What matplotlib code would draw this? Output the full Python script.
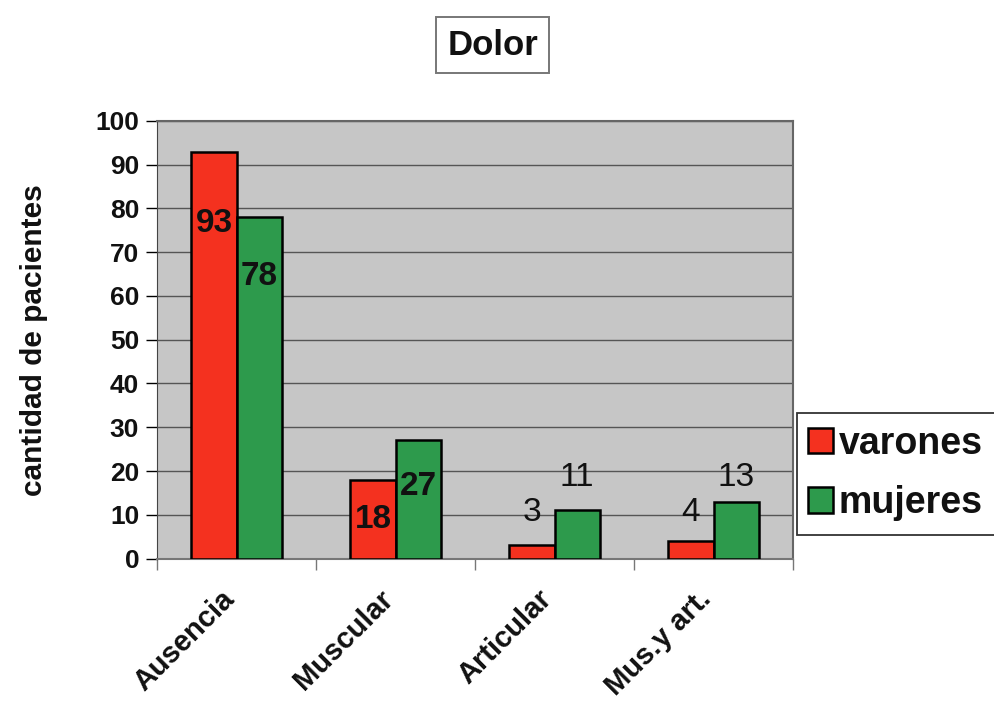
import numpy as np
import matplotlib.pyplot as plt
import matplotlib.transforms as mtransforms
from matplotlib.patches import Rectangle

plt.rcParams["font.family"] = ["Liberation Sans", "DejaVu Sans"]

categorias = ["Ausencia", "Muscular", "Articular", "Mus.y art."]
varones = [93, 18, 3, 4]
mujeres = [78, 27, 11, 13]
series = ["varones", "mujeres"]

# label heights (data units) as placed on the chart
pos_varones = [76.5, 9.0, 10.5, 10.5]
pos_mujeres = [64.5, 16.5, 18.5, 18.5]
dentro = [True, True, False, False]

rojo = "#f4311f"
verde = "#2d9a4c"

fig = plt.figure(figsize=(9.95, 7.07), dpi=100)
ax = fig.add_axes([0.158, 0.210, 0.639, 0.619])
ax.set_facecolor("#c6c6c6")

x = np.arange(len(categorias))
w = 0.285
ax.bar(x - w / 2, varones, w, color=rojo, edgecolor="black", linewidth=1.8,
       label=series[0], zorder=3)
ax.bar(x + w / 2, mujeres, w, color=verde, edgecolor="black", linewidth=1.8,
       label=series[1], zorder=3)

for i in range(len(categorias)):
    peso = "bold" if dentro[i] else "normal"
    ax.text(x[i] - w / 2, pos_varones[i], str(varones[i]), ha="center", va="center",
            fontsize=24, fontweight=peso, color="#111111", zorder=4)
    ax.text(x[i] + w / 2, pos_mujeres[i], str(mujeres[i]), ha="center", va="center",
            fontsize=24, fontweight=peso, color="#111111", zorder=4)

ax.set_ylim(0, 100)
ax.set_xlim(-0.5, len(categorias) - 0.5)
ax.set_yticks(range(0, 101, 10))
ax.yaxis.grid(True, color="#555555", linewidth=1.0, zorder=1)
ax.tick_params(axis="y", labelsize=19, length=8, width=1, direction="out", pad=5,
               labelcolor="#111111")
for t in ax.get_yticklabels():
    t.set_fontweight("bold")

# category ticks sit on the boundaries between groups
ax.set_xticks(np.arange(-0.5, len(categorias), 1.0))
ax.set_xticklabels([])
ax.tick_params(axis="x", which="major", length=8, width=1, color="#777777")

# rotated category names, anchored under each group
desplaza = mtransforms.ScaledTranslation(-7 / 100, -36 / 100, fig.dpi_scale_trans)
for i, nombre in enumerate(categorias):
    ax.text(x[i], 0, nombre, transform=ax.get_xaxis_transform() + desplaza,
            rotation=45, ha="right", va="center", rotation_mode="anchor",
            fontsize=21, fontweight="bold", color="#111111", clip_on=False)

for lado in ["top", "right"]:
    ax.spines[lado].set_color("#666666")
    ax.spines[lado].set_linewidth(1.5)
ax.spines["left"].set_color("#444444")
ax.spines["bottom"].set_color("#777777")
ax.spines["bottom"].set_linewidth(1.5)

ax.set_ylabel("cantidad de pacientes", fontsize=21.5, fontweight="bold", labelpad=34,
              color="#111111")

# legend frame runs off the right edge of the figure
fig.patches.append(Rectangle((797 / 995, 1 - 535 / 707), 0.3, 122 / 707,
                             transform=fig.transFigure, facecolor="white",
                             edgecolor="#333333", linewidth=1.3, zorder=5))
leg = fig.legend(loc="upper left", bbox_to_anchor=(808 / 995, 1 - 426 / 707),
                 prop={"weight": "bold", "size": 27}, frameon=False,
                 handlelength=0.66, handleheight=0.66, handletextpad=0.15,
                 labelspacing=0.62, borderpad=0, borderaxespad=0)
leg.set_zorder(6)
for t in leg.get_texts():
    t.set_color("#111111")
for h in leg.legend_handles:
    h.set_edgecolor("black")
    h.set_linewidth(1.8)

fig.text(0.495, 0.936, "Dolor", ha="center", va="center", fontsize=25,
         fontweight="bold", color="#111111",
         bbox=dict(boxstyle="square,pad=0.33", facecolor="white",
                   edgecolor="#777777", linewidth=1.4))

fig.savefig("out.png", dpi=100)
